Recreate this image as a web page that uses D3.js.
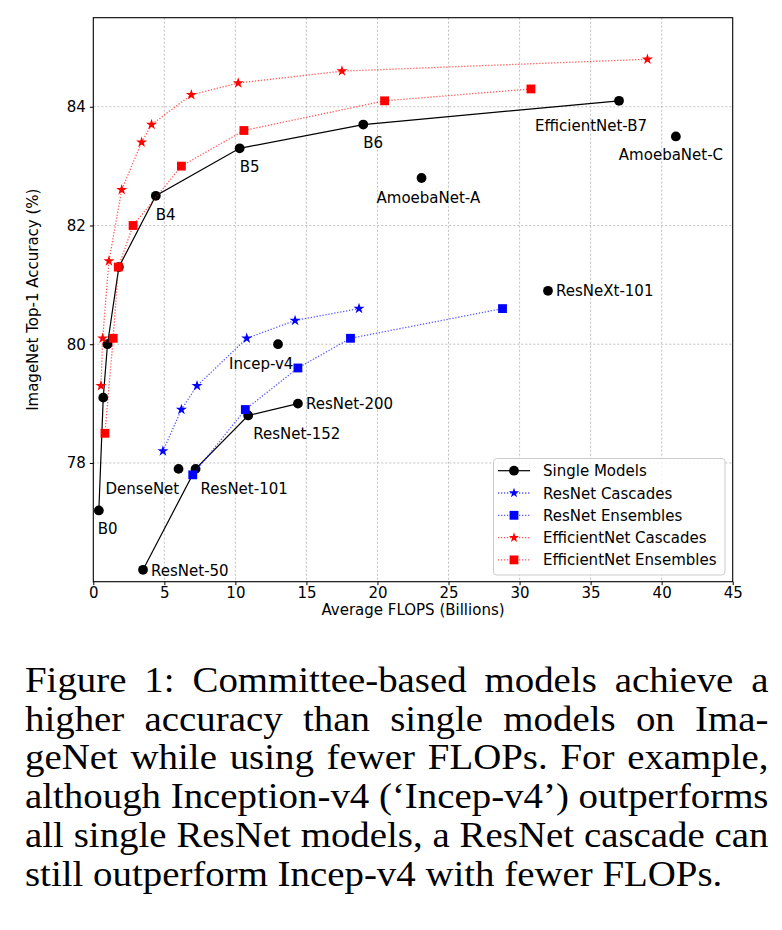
<!DOCTYPE html>
<html>
<head>
<meta charset="utf-8">
<script src="https://d3js.org/d3.v7.min.js"></script>
<style>
  body { margin: 0; background: #fff; }
  svg { display: block; }
  .tick text { font-family: 'DejaVu Sans', sans-serif; font-size: 15px; fill: #000; }
</style>
</head>
<body>
<div id="chart"></div>
<script>
// single models (EfficientNet B0..B7)
var effSingleX = [0.39, 0.70, 1.0, 1.8, 4.4, 10.3, 19.0, 37.0];
var effSingleY = [77.2, 79.1, 80.0, 81.3, 82.5, 83.3, 83.7, 84.1];
var effSingleNames = ['B0', '', '', '', 'B4', 'B5', 'B6', 'EfficientNet-B7'];

// single ResNet line
var resSingleX = [3.5, 7.2, 10.9, 14.4];
var resSingleY = [76.2, 77.9, 78.8, 79.0];
var resSingleNames = ['ResNet-50', 'ResNet-101', 'ResNet-152', 'ResNet-200'];

// other single models
var otherX = [6.0, 13.0, 32.0, 23.1, 41.0];
var otherY = [77.9, 80.0, 80.9, 82.8, 83.5];
var otherNames = ['DenseNet', 'Incep-v4', 'ResNeXt-101', 'AmoebaNet-A', 'AmoebaNet-C'];

var resCascX = [4.9, 6.2, 7.3, 10.8, 14.2, 18.7];
var resCascY = [78.2, 78.9, 79.3, 80.1, 80.4, 80.6];

var resEnsX = [7.0, 10.7, 14.4, 18.1, 28.8];
var resEnsY = [77.8, 78.9, 79.6, 80.1, 80.6];

var effCascX = [0.54, 0.66, 1.1, 2.0, 3.4, 4.1, 6.9, 10.2, 17.5, 39.0];
var effCascY = [79.3, 80.1, 81.4, 82.6, 83.4, 83.7, 84.2, 84.4, 84.6, 84.8];

var effEnsX = [0.82, 1.4, 1.76, 2.8, 6.2, 10.6, 20.5, 30.8];
var effEnsY = [78.5, 80.1, 81.3, 82.0, 83.0, 83.6, 84.1, 84.3];

var xTicks = [0, 5, 10, 15, 20, 25, 30, 35, 40, 45];
var yTicks = [78, 80, 82, 84];

var legendNames = ['Single Models', 'ResNet Cascades', 'ResNet Ensembles', 'EfficientNet Cascades', 'EfficientNet Ensembles'];

var captionLines = [
  'Figure 1: Committee-based models achieve a',
  'higher accuracy than single models on Ima-',
  'geNet while using fewer FLOPs. For example,',
  'although Inception-v4 (\u2018Incep-v4\u2019) outperforms',
  'all single ResNet models, a ResNet cascade can',
  'still outperform Incep-v4 with fewer FLOPs.'
];

// label offsets in pixels from the point (layout only)
var labelOffsets = {
  'B0': [-1, 24], 'B4': [0, 24], 'B5': [0, 24], 'B6': [0, 23],
  'EfficientNet-B7': [-84, 30], 'AmoebaNet-A': [-45, 25], 'AmoebaNet-C': [-57, 24],
  'ResNeXt-101': [8, 5.5], 'Incep-v4': [-49, 25], 'ResNet-200': [8, 5.5],
  'ResNet-152': [5, 24], 'ResNet-101': [5, 25], 'DenseNet': [-73, 25], 'ResNet-50': [8, 6]
};

function zip(xs, ys) {
  return xs.map(function(x, i) { return {x: x, y: ys[i]}; });
}

var W = 782, H = 930;
var pLeft = 93.3, pRight = 732.7, pTop = 17.7, pBottom = 581.7;

var svg = d3.select('#chart').append('svg')
    .attr('width', W).attr('height', H);

var x = d3.scaleLinear().domain([0, 45]).range([pLeft, pRight]);
var y = d3.scaleLinear().domain([76.0, 85.5]).range([pBottom, pTop]);

// grid
svg.append('g').selectAll('line').data(xTicks.slice(1, -1)).enter().append('line')
    .attr('x1', function(d) { return x(d); }).attr('x2', function(d) { return x(d); })
    .attr('y1', pTop).attr('y2', pBottom)
    .attr('stroke', '#b0b0b0').attr('stroke-width', 0.8).attr('stroke-dasharray', '2,2');
svg.append('g').selectAll('line').data(yTicks).enter().append('line')
    .attr('y1', function(d) { return y(d); }).attr('y2', function(d) { return y(d); })
    .attr('x1', pLeft).attr('x2', pRight)
    .attr('stroke', '#b0b0b0').attr('stroke-width', 0.8).attr('stroke-dasharray', '2,2');

// axes
var xAxis = svg.append('g').attr('transform', 'translate(0,' + pBottom + ')')
    .call(d3.axisBottom(x).tickValues(xTicks).tickSize(3.5).tickPadding(2).tickFormat(d3.format('d')));
var yAxis = svg.append('g').attr('transform', 'translate(' + pLeft + ',0)')
    .call(d3.axisLeft(y).tickValues(yTicks).tickSize(3.5).tickPadding(4).tickFormat(d3.format('d')));
xAxis.select('.domain').remove();
yAxis.select('.domain').remove();
svg.selectAll('.tick line').attr('stroke', '#000').attr('stroke-width', 1);

svg.append('rect')
    .attr('x', pLeft).attr('y', pTop)
    .attr('width', pRight - pLeft).attr('height', pBottom - pTop)
    .attr('fill', 'none').attr('stroke', '#000').attr('stroke-width', 1.1);

svg.append('text')
    .attr('x', (pLeft + pRight) / 2).attr('y', 615)
    .attr('text-anchor', 'middle')
    .style('font-family', 'DejaVu Sans').style('font-size', '15px')
    .text('Average FLOPS (Billions)');

svg.append('text')
    .attr('transform', 'translate(38,' + (pTop + pBottom) / 2 + ') rotate(-90)')
    .attr('text-anchor', 'middle')
    .style('font-family', 'DejaVu Sans').style('font-size', '15px')
    .text('ImageNet Top-1 Accuracy (%)');

var line = d3.line()
    .x(function(d) { return x(d.x); })
    .y(function(d) { return y(d.y); });

var plot = svg.append('g');

function drawSeries(pts, color, dotted, symbol, size, connect) {
  if (connect) {
    plot.append('path')
        .datum(pts)
        .attr('d', line)
        .attr('fill', 'none')
        .attr('stroke', color)
        .attr('stroke-width', dotted ? 1.3 : 1.2)
        .attr('stroke-opacity', dotted ? 0.65 : 1)
        .attr('stroke-dasharray', dotted ? '1.3,1.7' : null);
  }
  plot.append('g').selectAll('path').data(pts).enter().append('path')
      .attr('d', d3.symbol().type(symbol).size(size))
      .attr('transform', function(d) { return 'translate(' + x(d.x) + ',' + y(d.y) + ')'; })
      .attr('fill', color);
}

drawSeries(zip(effSingleX, effSingleY), '#000', false, d3.symbolCircle, 75, true);
drawSeries(zip(resSingleX, resSingleY), '#000', false, d3.symbolCircle, 75, true);
drawSeries(zip(otherX, otherY), '#000', false, d3.symbolCircle, 75, false);
drawSeries(zip(resCascX, resCascY), '#0000ff', true, d3.symbolStar, 38, true);
drawSeries(zip(resEnsX, resEnsY), '#0000ff', true, d3.symbolSquare, 78, true);
drawSeries(zip(effCascX, effCascY), '#ff0000', true, d3.symbolStar, 38, true);
drawSeries(zip(effEnsX, effEnsY), '#ff0000', true, d3.symbolSquare, 78, true);

// model labels
var labelled = []
  .concat(effSingleNames.map(function(n, i) { return {name: n, x: effSingleX[i], y: effSingleY[i]}; }))
  .concat(resSingleNames.map(function(n, i) { return {name: n, x: resSingleX[i], y: resSingleY[i]}; }))
  .concat(otherNames.map(function(n, i) { return {name: n, x: otherX[i], y: otherY[i]}; }))
  .filter(function(d) { return d.name !== ''; });

svg.append('g').selectAll('text').data(labelled).enter().append('text')
    .attr('x', function(d) { return x(d.x) + labelOffsets[d.name][0]; })
    .attr('y', function(d) { return y(d.y) + labelOffsets[d.name][1]; })
    .style('font-family', 'DejaVu Sans').style('font-size', '15px')
    .text(function(d) { return d.name; });

// legend
var lg = svg.append('g');
lg.append('rect')
    .attr('x', 493.5).attr('y', 458.5).attr('width', 231.5).attr('height', 116.5)
    .attr('rx', 3).attr('fill', '#fff').attr('fill-opacity', 0.8)
    .attr('stroke', '#cccccc').attr('stroke-width', 1);

var legendStyle = [
  {color: '#000', dotted: false, symbol: d3.symbolCircle, size: 75},
  {color: '#0000ff', dotted: true, symbol: d3.symbolStar, size: 32},
  {color: '#0000ff', dotted: true, symbol: d3.symbolSquare, size: 78},
  {color: '#ff0000', dotted: true, symbol: d3.symbolStar, size: 32},
  {color: '#ff0000', dotted: true, symbol: d3.symbolSquare, size: 78}
];

legendNames.forEach(function(name, i) {
  var ly = 470.7 + i * 22.3;
  var s = legendStyle[i];
  lg.append('line')
      .attr('x1', 498).attr('x2', 530).attr('y1', ly).attr('y2', ly)
      .attr('stroke', s.color)
      .attr('stroke-width', s.dotted ? 1.3 : 1.2)
      .attr('stroke-opacity', s.dotted ? 0.65 : 1)
      .attr('stroke-dasharray', s.dotted ? '1.3,1.7' : null);
  lg.append('path')
      .attr('d', d3.symbol().type(s.symbol).size(s.size))
      .attr('transform', 'translate(514,' + ly + ')')
      .attr('fill', s.color);
  lg.append('text')
      .attr('x', 543).attr('y', ly + 5.5)
      .style('font-family', 'DejaVu Sans').style('font-size', '15px')
      .text(name);
});

// caption, justified by word spacing (text is a bit wider than tall in the scan)
var capLeft = 25, capRight = 768.5, capStretch = 1.08;
var cap = svg.append('g')
    .style('font-family', '"Liberation Serif", "Times New Roman", serif')
    .style('font-size', '36px');

captionLines.forEach(function(t, i) {
  var tx = cap.append('text')
      .attr('transform', 'translate(' + capLeft + ',' + (692 + i * 38.7) + ') scale(' + capStretch + ',1)')
      .text(t);
  if (i < captionLines.length - 1) {
    var w = tx.node().getComputedTextLength();
    var gaps = t.split(' ').length - 1;
    tx.style('word-spacing', (((capRight - capLeft) / capStretch - w) / gaps) + 'px');
  }
});
</script>
</body>
</html>
